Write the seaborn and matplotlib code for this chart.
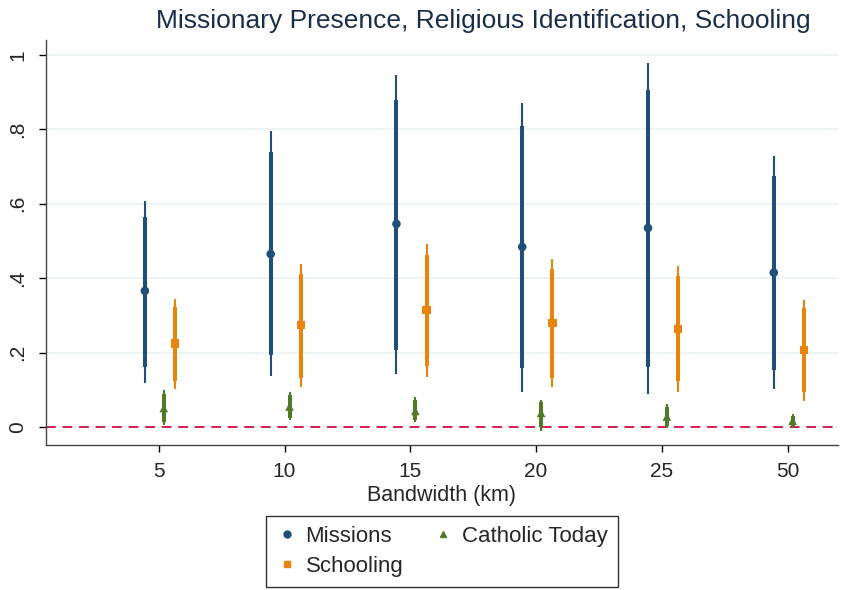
import numpy as np
import pandas as pd
import matplotlib
matplotlib.use("Agg")
import matplotlib.pyplot as plt
import seaborn as sns

# bandwidths (km) on the x axis
bandwidths = ["5", "10", "15", "20", "25", "50"]

# point estimates
missions = [0.366, 0.465, 0.546, 0.484, 0.535, 0.415]
schooling = [0.224, 0.274, 0.315, 0.280, 0.263, 0.207]
catholic = [0.051, 0.055, 0.043, 0.038, 0.028, 0.017]

# 90% CI (thick) and 95% CI (thin)
missions_lo90 = [0.161, 0.194, 0.207, 0.159, 0.162, 0.153]
missions_hi90 = [0.565, 0.739, 0.879, 0.809, 0.906, 0.676]
missions_lo95 = [0.118, 0.137, 0.142, 0.094, 0.089, 0.102]
missions_hi95 = [0.607, 0.796, 0.946, 0.871, 0.979, 0.728]

schooling_lo90 = [0.124, 0.132, 0.164, 0.132, 0.124, 0.094]
schooling_hi90 = [0.323, 0.411, 0.462, 0.425, 0.406, 0.321]
schooling_lo95 = [0.103, 0.108, 0.134, 0.108, 0.095, 0.070]
schooling_hi95 = [0.344, 0.438, 0.492, 0.452, 0.433, 0.341]

catholic_lo90 = [0.014, 0.024, 0.018, 0.000, 0.004, 0.003]
catholic_hi90 = [0.090, 0.087, 0.072, 0.066, 0.055, 0.030]
catholic_lo95 = [0.005, 0.019, 0.013, -0.010, -0.003, -0.003]
catholic_hi95 = [0.100, 0.094, 0.080, 0.073, 0.062, 0.034]

series_names = ["Missions", "Schooling", "Catholic Today"]
colors = {"Missions": "#1f4e79", "Schooling": "#e8830c", "Catholic Today": "#4f7a28"}
markers = {"Missions": "o", "Schooling": "s", "Catholic Today": "^"}
offsets = {"Missions": -0.11, "Schooling": 0.13, "Catholic Today": 0.04}

rows = []
for name, est, l9, h9, l5, h5 in [
    ("Missions", missions, missions_lo90, missions_hi90, missions_lo95, missions_hi95),
    ("Schooling", schooling, schooling_lo90, schooling_hi90, schooling_lo95, schooling_hi95),
    ("Catholic Today", catholic, catholic_lo90, catholic_hi90, catholic_lo95, catholic_hi95),
]:
    for i, bw in enumerate(bandwidths):
        rows.append({"series": name, "bw": bw, "pos": i + 1 + offsets[name],
                     "est": est[i], "lo90": l9[i], "hi90": h9[i],
                     "lo95": l5[i], "hi95": h5[i]})
df = pd.DataFrame(rows)

sns.set_theme(style="white")
plt.rcParams["font.family"] = ["Liberation Sans", "DejaVu Sans"]

fig = plt.figure(figsize=(8.43, 5.90), dpi=100)
ax = fig.add_axes([0.054, 0.246, 0.940, 0.686])

ax.yaxis.grid(True, color="#eaf0f3", linewidth=1.2)
ax.set_axisbelow(True)

for name in series_names:
    d = df[df.series == name]
    ax.vlines(d.pos, d.lo95, d.hi95, color=colors[name], linewidth=1.5, zorder=2)
    ax.vlines(d.pos, d.lo90, d.hi90, color=colors[name], linewidth=2.9, zorder=2)

sns.scatterplot(data=df, x="pos", y="est", hue="series", style="series",
                hue_order=series_names, style_order=series_names,
                palette=colors, markers=markers, s=38, linewidth=0,
                ax=ax, zorder=3, legend=False)

ax.axhline(0, color="#d61f4d", linewidth=1.4, linestyle=(0, (5, 3.5)), zorder=1)

ax.set_xlim(0.1, 6.4)
ax.set_ylim(-0.048, 1.04)
ax.set_xticks(np.arange(1, len(bandwidths) + 1))
ax.set_xticklabels(bandwidths, fontsize=15)
ax.set_yticks([0, 0.2, 0.4, 0.6, 0.8, 1.0])
ax.set_yticklabels(["0", ".2", ".4", ".6", ".8", "1"], fontsize=15, rotation=90, va="center")
ax.tick_params(axis="both", direction="out", length=5, width=1, color="black",
               bottom=True, left=True)
ax.tick_params(axis="y", pad=8)
ax.tick_params(axis="x", pad=7)
ax.set_xlabel("Bandwidth (km)", fontsize=15.5, labelpad=3)
ax.set_ylabel("")

for side in ["top", "right"]:
    ax.spines[side].set_visible(False)
for side in ["left", "bottom"]:
    ax.spines[side].set_color("#444444")
    ax.spines[side].set_linewidth(1)

ax.set_title("Missionary Presence, Religious Identification, Schooling",
             fontsize=19, color="#1a2e4a", pad=9, x=0.552)

handles = [plt.Line2D([], [], linestyle="none", marker=markers[n], color=colors[n],
                      markersize=5) for n in ["Missions", "Schooling", "Catholic Today"]]
labels = ["Missions", "Schooling", "Catholic Today"]
leg = fig.legend(handles, labels, loc="center", bbox_to_anchor=(0.524, 0.066),
                 ncol=2, fontsize=16, frameon=True, fancybox=False, edgecolor="black",
                 handletextpad=0.35, columnspacing=1.3, borderpad=0.45, handlelength=1.0,
                 labelspacing=0.4, borderaxespad=0)
leg.get_frame().set_linewidth(1)

fig.savefig("out.png", dpi=100, facecolor="white")
